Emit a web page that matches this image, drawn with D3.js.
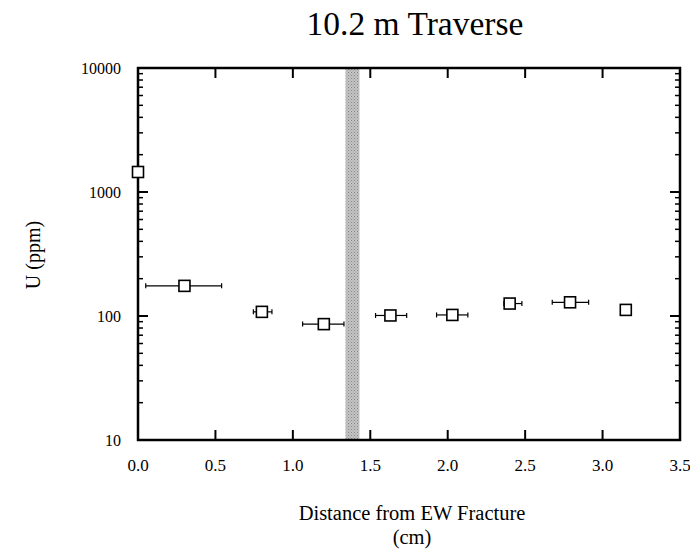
<!DOCTYPE html>
<html>
<head>
<meta charset="utf-8">
<script src="https://cdn.jsdelivr.net/npm/d3@7"></script>
</head>
<body style="margin:0;background:#fff">
<svg id="chart" width="690" height="550"></svg>
<script>
// ===== data =====
const dist   = [0.0, 0.30, 0.80, 1.20, 1.63, 2.03, 2.40, 2.79, 3.15];
const uppm   = [1450, 175, 108, 86, 101, 102, 126, 129, 112];
const errLo  = [0.0, 0.05, 0.745, 1.063, 1.534, 1.928, 2.363, 2.675, 3.15];
const errHi  = [0.0, 0.54, 0.865, 1.33, 1.735, 2.13, 2.479, 2.91, 3.15];
const band   = [1.34, 1.43];
const xTicks = [0, 0.5, 1.0, 1.5, 2.0, 2.5, 3.0, 3.5];
const yTicks = [10, 100, 1000, 10000];

const FONT = "Liberation Serif";

// ===== layout =====
const M = {top:68, right:10, bottom:110, left:138};
const W = 690, H = 550;
const svg = d3.select("#chart");

const x = d3.scaleLinear().domain([0, 3.5]).range([M.left, W - M.right]);
const y = d3.scaleLog().domain([10, 10000]).range([H - M.bottom, M.top]);

const x0 = x.range()[0], x1 = x.range()[1];
const y0 = y.range()[0], y1 = y.range()[1];

// shaded fracture band
const pat = svg.append("defs").append("pattern")
  .attr("id","dots").attr("width",3).attr("height",3)
  .attr("patternUnits","userSpaceOnUse");
pat.append("rect").attr("width",3).attr("height",3).attr("fill","#c4c4c4");
pat.append("rect").attr("width",1).attr("height",1).attr("fill","#888");
pat.append("rect").attr("x",1.5).attr("y",1.5).attr("width",1).attr("height",1).attr("fill","#999");

svg.append("rect")
  .attr("x", x(band[0])).attr("y", y1)
  .attr("width", x(band[1]) - x(band[0]))
  .attr("height", y0 - y1)
  .attr("fill", "url(#dots)");

// minor log ticks
const minor = [];
for (let d = 10; d < 10000; d *= 10)
  for (let k = 2; k <= 9; k++) minor.push(d * k);

const ax = svg.append("g").attr("stroke","#000");
minor.forEach(v => {
  ax.append("line").attr("x1",x0).attr("x2",x0+5).attr("y1",y(v)).attr("y2",y(v)).attr("stroke-width",1.5);
  ax.append("line").attr("x1",x1).attr("x2",x1-5).attr("y1",y(v)).attr("y2",y(v)).attr("stroke-width",1.5);
});
yTicks.forEach(v => {
  ax.append("line").attr("x1",x0).attr("x2",x0+10).attr("y1",y(v)).attr("y2",y(v)).attr("stroke-width",2);
  ax.append("line").attr("x1",x1).attr("x2",x1-10).attr("y1",y(v)).attr("y2",y(v)).attr("stroke-width",2);
});
xTicks.forEach(v => {
  ax.append("line").attr("x1",x(v)).attr("x2",x(v)).attr("y1",y0).attr("y2",y0-10).attr("stroke-width",2);
  ax.append("line").attr("x1",x(v)).attr("x2",x(v)).attr("y1",y1).attr("y2",y1+10).attr("stroke-width",2);
});
// frame
svg.append("rect")
  .attr("x",x0).attr("y",y1).attr("width",x1-x0).attr("height",y0-y1)
  .attr("fill","none").attr("stroke","#000").attr("stroke-width",2.5);

// tick labels
svg.append("g").selectAll("text").data(yTicks).join("text")
  .attr("font-family", FONT)
  .attr("x", x0 - 17).attr("y", d => y(d)).attr("dy","0.35em")
  .attr("text-anchor","end").attr("font-size",16).text(d => d);
svg.append("g").selectAll("text").data(xTicks).join("text")
  .attr("font-family", FONT)
  .attr("x", d => x(d)).attr("y", y0 + 25).attr("dy","0.35em")
  .attr("text-anchor","middle").attr("font-size",17).text(d => d.toFixed(1));

// error bars
const pts = dist.map((d,i) => ({x:d, y:uppm[i], lo:errLo[i], hi:errHi[i]}));
const eb = svg.append("g").attr("stroke","#000").attr("stroke-width",1.2);
pts.filter(p => p.hi > p.lo).forEach(p => {
  eb.append("line").attr("x1",x(p.lo)).attr("x2",x(p.hi)).attr("y1",y(p.y)).attr("y2",y(p.y));
  eb.append("line").attr("x1",x(p.lo)).attr("x2",x(p.lo)).attr("y1",y(p.y)-2.5).attr("y2",y(p.y)+2.5);
  eb.append("line").attr("x1",x(p.hi)).attr("x2",x(p.hi)).attr("y1",y(p.y)-2.5).attr("y2",y(p.y)+2.5);
});

// markers
const S = 11;
svg.append("g").selectAll("rect").data(pts).join("rect")
  .attr("x", d => x(d.x) - S/2).attr("y", d => y(d.y) - S/2)
  .attr("width",S).attr("height",S)
  .attr("fill","#fff").attr("stroke","#000").attr("stroke-width",1.6);

// titles
svg.append("text").attr("font-family", FONT).attr("x",415).attr("y",35).attr("text-anchor","middle")
  .attr("font-size",33.5).text("10.2 m Traverse");
svg.append("text").attr("font-family", FONT).attr("transform","translate(40,255) rotate(-90)")
  .attr("text-anchor","middle").attr("font-size",20).text("U (ppm)");
svg.append("text").attr("font-family", FONT).attr("x",412).attr("y",520).attr("text-anchor","middle")
  .attr("font-size",20.5).text("Distance from EW Fracture");
svg.append("text").attr("font-family", FONT).attr("x",412).attr("y",544).attr("text-anchor","middle")
  .attr("font-size",20.5).text("(cm)");
</script>
</body>
</html>
